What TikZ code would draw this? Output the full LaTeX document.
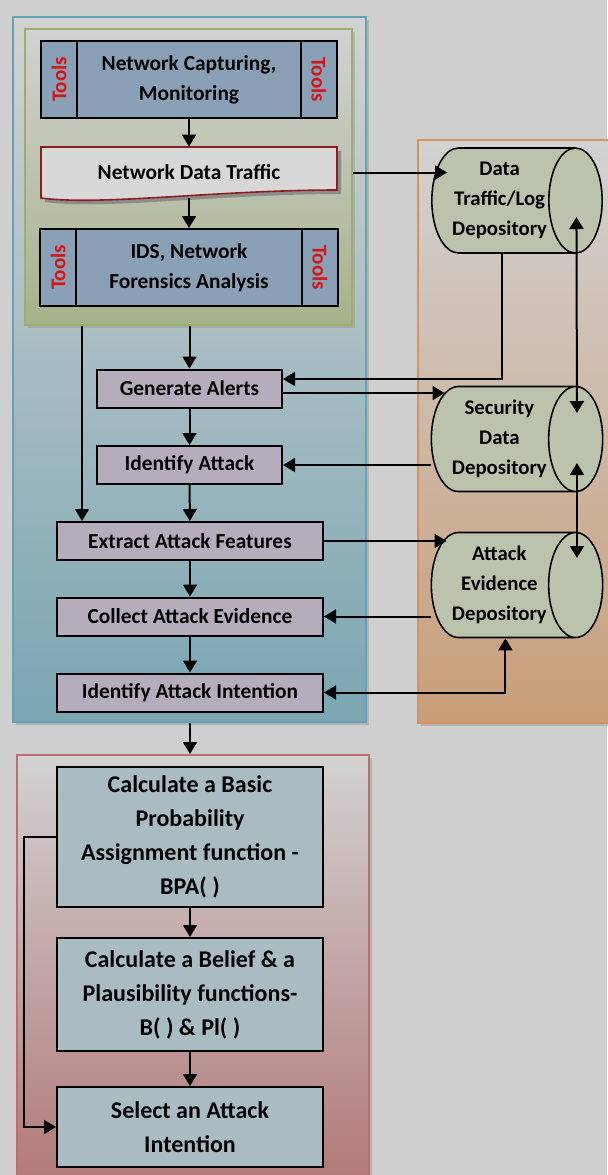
\documentclass[tikz,border=0pt]{standalone}
\usepackage{fontspec}
\setmainfont{Carlito}
\usetikzlibrary{calc,positioning,arrows.meta,shapes.geometric,shadows}
\definecolor{bggray}{RGB}{207,207,207}
\definecolor{toolblue}{RGB}{138,160,182}
\definecolor{toolred}{RGB}{214,20,20}
\definecolor{stepgray}{RGB}{182,173,188}
\definecolor{dsblue}{RGB}{168,188,194}
\definecolor{storegreen}{RGB}{188,195,172}
\definecolor{docred}{RGB}{140,30,30}
\definecolor{docfill}{RGB}{216,216,216}
\definecolor{bluebord}{RGB}{100,162,182}
\definecolor{bluelow}{RGB}{122,166,178}
\definecolor{greenbord}{RGB}{152,176,108}
\definecolor{greenlow}{RGB}{166,178,138}
\definecolor{orangebord}{RGB}{214,146,92}
\definecolor{orangelow}{RGB}{201,158,120}
\definecolor{redbord}{RGB}{190,108,108}
\definecolor{redlow}{RGB}{178,120,120}
\definecolor{panelhigh}{RGB}{210,210,210}
\tikzstyle{panel}    = [rectangle, line width=1pt, inner sep=0pt, drop shadow={shadow xshift=1.5pt, shadow yshift=-1.5pt, fill=black!40}]
\tikzstyle{toolbox}  = [rectangle, draw=black, line width=1pt, fill=toolblue, align=center, inner sep=0pt, font=\bfseries\fontsize{10.7}{15}\selectfont]
\tikzstyle{toolside} = [rectangle, draw=black, line width=1pt, fill=toolblue, minimum width=18pt, minimum height=38.5pt, inner sep=0pt, text=toolred, font=\bfseries\fontsize{10.5}{12}\selectfont]
\tikzstyle{process}  = [rectangle, draw=black, line width=1pt, fill=stepgray, minimum height=19pt, inner sep=0pt, font=\bfseries\fontsize{10.7}{15}\selectfont]
\tikzstyle{dsstep}   = [rectangle, draw=black, line width=1pt, fill=dsblue, minimum width=133pt, align=center, inner sep=0pt, font=\bfseries\fontsize{12}{17}\selectfont]
\tikzstyle{store}    = [cylinder, draw=black, line width=0.8pt, fill=storegreen, aspect=0.66, minimum width=52.5pt, minimum height=80pt, align=center, inner xsep=0.5pt, inner ysep=1pt, anchor=shape center, font=\bfseries\fontsize{10.4}{15}\selectfont]
\tikzstyle{arrow}    = [line width=1pt, -{Triangle[length=6pt,width=7pt]}]
\tikzstyle{twoway}   = [line width=1pt, {Triangle[length=6pt,width=7pt]}-{Triangle[length=6pt,width=7pt]}]

\begin{document}
\begin{tikzpicture}[x=0.5pt, y=-0.5pt]
    \path[use as bounding box, fill=bggray] (0,0) rectangle (607,1175);

    % panels
    \node[panel, draw=bluebord, top color=panelhigh, bottom color=bluelow, minimum width=176.5pt, minimum height=352.5pt] (analysis) at (189.5,369.5) {};
    \node[panel, draw=greenbord, top color=panelhigh, bottom color=greenlow, minimum width=163.5pt, minimum height=148pt] (sensor) at (188.5,177) {};
    \node[panel, draw=orangebord, top color=panelhigh, bottom color=orangelow, minimum width=97pt, minimum height=291.5pt] (depot) at (515,431.5) {};
    \node[panel, draw=redbord, top color=panelhigh, bottom color=redlow, minimum width=176pt, minimum height=215pt] (dsbox) at (193,970) {};

    % capturing and analysis
    \node[toolbox, minimum width=148pt, minimum height=38.5pt] (capture) at (189,79.5) {Network Capturing,\\Monitoring};
    \node[toolside, anchor=north west] (capl) at (capture.north west) {\rotatebox{90}{Tools}};
    \node[toolside, anchor=north east] (capr) at (capture.north east) {\rotatebox{-90}{Tools}};

    \fill[black!45, shift={(4,4)}] (41,147) -- (337,147) -- (337,190) .. controls (217,190) and (101,206) .. (41,198) -- cycle;
    \draw[docred, fill=docfill, line width=0.8pt] (41,147) -- (337,147) -- (337,190) .. controls (217,190) and (101,206) .. (41,198) -- cycle;
    \node[inner sep=0pt, minimum width=148pt, minimum height=25.5pt, font=\bfseries\fontsize{10.7}{15}\selectfont] (traffic) at (189,172.5) {Network Data Traffic};

    \node[toolbox, minimum width=149pt, minimum height=38.5pt] (ids) at (189,267.5) {IDS, Network\\Forensics Analysis};
    \node[toolside, anchor=north west] (idsl) at (ids.north west) {\rotatebox{90}{Tools}};
    \node[toolside, anchor=north east] (idsr) at (ids.north east) {\rotatebox{-90}{Tools}};

    % attack steps
    \node[process, minimum width=92.5pt] (alerts) at (189.5,388.5) {Generate Alerts};
    \node[process, minimum width=92.5pt] (identify) at (189.5,465) {Identify Attack};
    \node[process, minimum width=133pt] (extract) at (190,541) {Extract Attack Features};
    \node[process, minimum width=133pt] (collect) at (190,616.5) {Collect Attack Evidence};
    \node[process, minimum width=133pt] (intention) at (190,692.5) {Identify Attack Intention};

    % depositories
    \node[store] (dtl) at (517,200.5) {Data\\Traffic/Log\\Depository};
    \node[store] (sdd) at (517,439) {Security\\Data\\Depository};
    \node[store] (aed) at (517,585) {Attack\\Evidence\\Depository};

    % D-S steps
    \node[dsstep, minimum height=70pt] (bpa) at (190,837) {Calculate a Basic\\Probability\\Assignment function -\\BPA( )};
    \node[dsstep, minimum height=56.5pt] (belief) at (190,994.5) {Calculate a Belief \& a\\Plausibility functions-\\B( ) \& Pl( )};
    \node[dsstep, minimum height=40pt] (select) at (190,1127) {Select an Attack\\Intention};

    % flow
    \draw[arrow] (capture) -- (traffic.north);
    \draw[arrow] (ids.north |- traffic.south) -- (ids.north);
    \draw[arrow] (alerts.north |- sensor.south) -- (alerts.north);
    \coordinate (featin) at ([xshift=13pt]extract.north west);
    \draw[arrow] (featin |- sensor.south) -- (featin);
    \draw[arrow] (alerts) -- (identify);
    \draw[arrow] (identify) -- (extract);
    \draw[arrow] (extract) -- (collect);
    \draw[arrow] (collect) -- (intention);
    \draw[arrow] (intention.south |- analysis.south) -- (intention.south |- dsbox.north);
    \draw[arrow] (bpa) -- (belief);
    \draw[arrow] (belief) -- (select);
    \draw[arrow] (bpa.west) -- ++(-32,0) |- (select.west);

    % depository links
    \draw[arrow, shorten >=-8pt] (traffic.east -| sensor.east) -- (traffic.east -| dtl.west);
    \draw[arrow] ([xshift=1pt]dtl.south) |- ([yshift=4.75pt]alerts.east);
    \coordinate (alout) at ([yshift=-2.25pt]alerts.east);
    \draw[arrow, shorten >=-7pt] (alout) -- (alout -| sdd.west);
    \draw[arrow] (identify.east -| sdd.west) -- (identify.east);
    \draw[arrow, shorten >=-8pt] (extract.east) -- (extract.east -| aed.west);
    \draw[arrow] (collect.east -| aed.west) -- (collect.east);
    \draw[twoway] (intention.east) -| ([xshift=3pt]aed.south);
    \draw[twoway] ([xshift=-13.25pt,yshift=-8.25pt]dtl.top) -- ([xshift=-13.25pt,yshift=13pt]sdd.top);
    \draw[twoway] ([xshift=-13.25pt,yshift=-12pt]sdd.top) -- ([xshift=-13.25pt,yshift=13.5pt]aed.top);
\end{tikzpicture}
\end{document}
